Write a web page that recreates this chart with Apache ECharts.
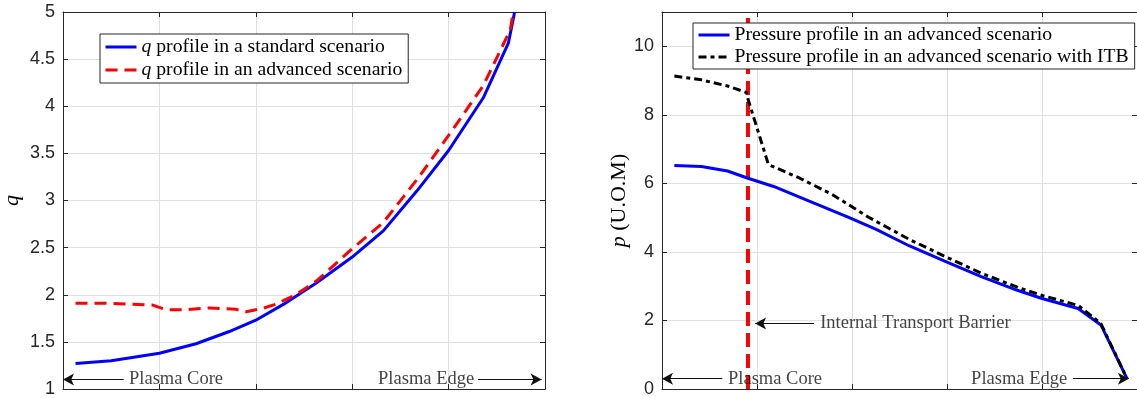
<!DOCTYPE html>
<html>
<head>
<meta charset="utf-8">
<script src="https://cdn.jsdelivr.net/npm/echarts@6/dist/echarts.min.js"></script>
<style>html,body{margin:0;padding:0;background:#fff}#c{width:1137px;height:398px}</style>
</head>
<body>
<div id="c"></div>
<script>
// ---- data (normalized radius 0..1) ----
const qStdX = [0.026,0.10,0.20,0.276,0.345,0.40,0.458,0.527,0.60,0.665,0.734,0.80,0.872,0.924,0.937];
const qStdY = [1.27,1.30,1.38,1.48,1.61,1.73,1.90,2.13,2.40,2.68,3.10,3.53,4.09,4.67,5.0];
const qAdvX = [0.026,0.083,0.138,0.186,0.214,0.248,0.304,0.359,0.38,0.414,0.442,0.483,0.527,0.596,0.665,0.734,0.80,0.872,0.928,0.934];
const qAdvY = [1.91,1.91,1.90,1.89,1.84,1.84,1.86,1.845,1.82,1.855,1.90,2.00,2.15,2.47,2.77,3.22,3.69,4.22,4.81,5.0];
const pStdX = [0.026,0.083,0.138,0.181,0.235,0.31,0.393,0.451,0.52,0.60,0.672,0.748,0.80,0.876,0.924,0.979];
const pStdY = [6.52,6.49,6.36,6.15,5.91,5.48,5.01,4.66,4.18,3.70,3.28,2.88,2.64,2.35,1.87,0.30];
const pItbX = [0.026,0.083,0.138,0.178,0.181,0.224,0.29,0.359,0.435,0.52,0.60,0.672,0.748,0.80,0.876,0.924,0.979];
const pItbY = [9.13,9.02,8.84,8.65,8.46,6.55,6.15,5.67,5.01,4.37,3.84,3.38,2.97,2.73,2.44,1.91,0.30];
const itbX = [0.181, 0.181];
const itbY = [0, 11];

const seriesNames = ['q profile in a standard scenario','q profile in an advanced scenario',
  'Pressure profile in an advanced scenario','Pressure profile in an advanced scenario with ITB'];
const annoTexts = ['Plasma Core','Plasma Edge','Internal Transport Barrier'];
// annotation anchors [textX, arrowFromX, arrowToX, y] in data units
const leftCore = [0.137, 0.126, 0.0, 1.10];
const leftEdge = [0.853, 0.861, 0.993, 1.10];
const rightCore = [0.139, 0.127, 0.0, 0.30];
const rightEdge = [0.853, 0.865, 0.983, 0.30];
const rightItb = [0.333, 0.320, 0.196, 1.91];

const zip = (xs, ys) => xs.map((x, i) => [x, ys[i]]);
const SERIF = '"Liberation Serif", "DejaVu Serif", serif';
const SANS = '"Liberation Sans", Arial, sans-serif';
const AX = '#262626', GRID = '#e0e0e0';

function xAx(gi, pos) {
  const bottom = pos === 'bottom';
  return { type:'value', gridIndex:gi, position:pos, min:0, max:1, interval:0.2,
    axisLine:{show:true, onZero:false, lineStyle:{color:AX, width:1}},
    axisTick:{show:true, inside:true, length:5, lineStyle:{color:AX}},
    axisLabel:{show:false},
    splitLine:{show:bottom, lineStyle:{color:GRID, width:1}} };
}
function yAx(gi, pos, min, max, interval, name) {
  const left = pos === 'left';
  return { type:'value', gridIndex:gi, position:pos, min:min, max:max, interval:interval,
    name: left ? name : '', nameLocation:'middle', nameGap: gi === 0 ? 40 : 32,
    nameTextStyle:{fontFamily:SERIF, fontSize:22, color:'#000',
      rich:{i:{fontFamily:SERIF, fontStyle:'italic', fontSize:22, color:'#000'}}},
    axisLine:{show:true, onZero:false, lineStyle:{color:AX, width:1}},
    axisTick:{show:true, inside:true, length:5, lineStyle:{color:AX}},
    axisLabel:{show:left, fontFamily:SANS, fontSize:18, color:AX, margin:8, showMaxLabel: gi === 0},
    splitLine:{show:left, lineStyle:{color:GRID, width:1}} };
}
function legendFmt(name) {
  if (name.charAt(0) === 'q') return '{i|q}' + name.slice(1);
  return name;
}
function annoSeries(xi, yi, core, edge, extra) {
  const data = [
    {value:[core[0], core[3]], label:{show:true, position:'right', distance:0, formatter:annoTexts[0]}},
    {value:[edge[0], edge[3]], label:{show:true, position:'left', distance:0, formatter:annoTexts[1]}}
  ];
  const lines = [
    [{coord:[core[1], core[3]], symbol:'none'}, {coord:[core[2], core[3]], symbol:'arrow'}],
    [{coord:[edge[1], edge[3]], symbol:'none'}, {coord:[edge[2], edge[3]], symbol:'arrow'}]
  ];
  if (extra) {
    data.push({value:[extra[0], extra[3]], label:{show:true, position:'right', distance:0, formatter:annoTexts[2]}});
    lines.push([{coord:[extra[1], extra[3]], symbol:'none'}, {coord:[extra[2], extra[3]], symbol:'arrow'}]);
  }
  return { type:'scatter', xAxisIndex:xi, yAxisIndex:yi, silent:true, symbolSize:0, z:5,
    label:{fontFamily:SERIF, fontSize:18.5, color:'#111'},
    data:data,
    markLine:{silent:true, symbolSize:[9,11], animation:false,
      lineStyle:{color:'#111', width:1, type:'solid'}, label:{show:false}, data:lines} };
}

const legendBase = {
  orient:'vertical', itemWidth:31, itemHeight:14, itemGap:3,
  backgroundColor:'#fff', borderColor:AX, borderWidth:1, borderRadius:0,
  padding:[3,6,3,4], selectedMode:false, formatter:legendFmt,
  itemStyle:{opacity:0},
  lineStyle:{width:3},
  textStyle:{fontFamily:SERIF, fontSize:19.7, color:'#000',
    rich:{i:{fontFamily:SERIF, fontStyle:'italic', fontSize:19.7, color:'#000'}}}
};

const option = {
  animation:false,
  backgroundColor:'#fff',
  grid:[{left:62, top:12, width:483, height:381},{left:662, top:12, width:483, height:381}],
  xAxis:[xAx(0,'bottom'), xAx(0,'top'), xAx(1,'bottom'), xAx(1,'top')],
  yAxis:[yAx(0,'left',1,5,0.5,'{i|q}'), yAx(0,'right',1,5,0.5,''),
         yAx(1,'left',0,11,2,'{i|p} (U.O.M)'), yAx(1,'right',0,11,2,'')],
  legend:[
    Object.assign({}, legendBase, {left:100, top:34, data:[seriesNames[0], seriesNames[1]]}),
    Object.assign({}, legendBase, {left:693, top:23, itemGap:2, padding:[2,6,2,4], data:[seriesNames[2], seriesNames[3]]})
  ],
  series:[
    {name:seriesNames[0], type:'line', xAxisIndex:0, yAxisIndex:0, symbol:'none', z:3,
      lineStyle:{color:'#0000ff', width:3}, itemStyle:{color:'#0000ff'}, data:zip(qStdX, qStdY)},
    {name:seriesNames[1], type:'line', xAxisIndex:0, yAxisIndex:0, symbol:'none', z:4,
      lineStyle:{color:'#ff0000', width:3, type:[12,7]}, itemStyle:{color:'#ff0000'}, data:zip(qAdvX, qAdvY)},
    {name:'ITB', type:'line', xAxisIndex:2, yAxisIndex:2, symbol:'none', z:2,
      lineStyle:{color:'#ff0000', width:4, type:[14,7]}, data:zip(itbX, itbY)},
    {name:seriesNames[2], type:'line', xAxisIndex:2, yAxisIndex:2, symbol:'none', z:3,
      lineStyle:{color:'#0000ff', width:3}, itemStyle:{color:'#0000ff'}, data:zip(pStdX, pStdY)},
    {name:seriesNames[3], type:'line', xAxisIndex:2, yAxisIndex:2, symbol:'none', z:4,
      lineStyle:{color:'#000000', width:3, type:[8,4,4,4]}, itemStyle:{color:'#000000'}, data:zip(pItbX, pItbY)},
    annoSeries(0, 0, leftCore, leftEdge, null),
    annoSeries(2, 2, rightCore, rightEdge, rightItb)
  ]
};
echarts.init(document.getElementById('c'), null, {renderer:'canvas'}).setOption(option);
</script>
</body>
</html>
